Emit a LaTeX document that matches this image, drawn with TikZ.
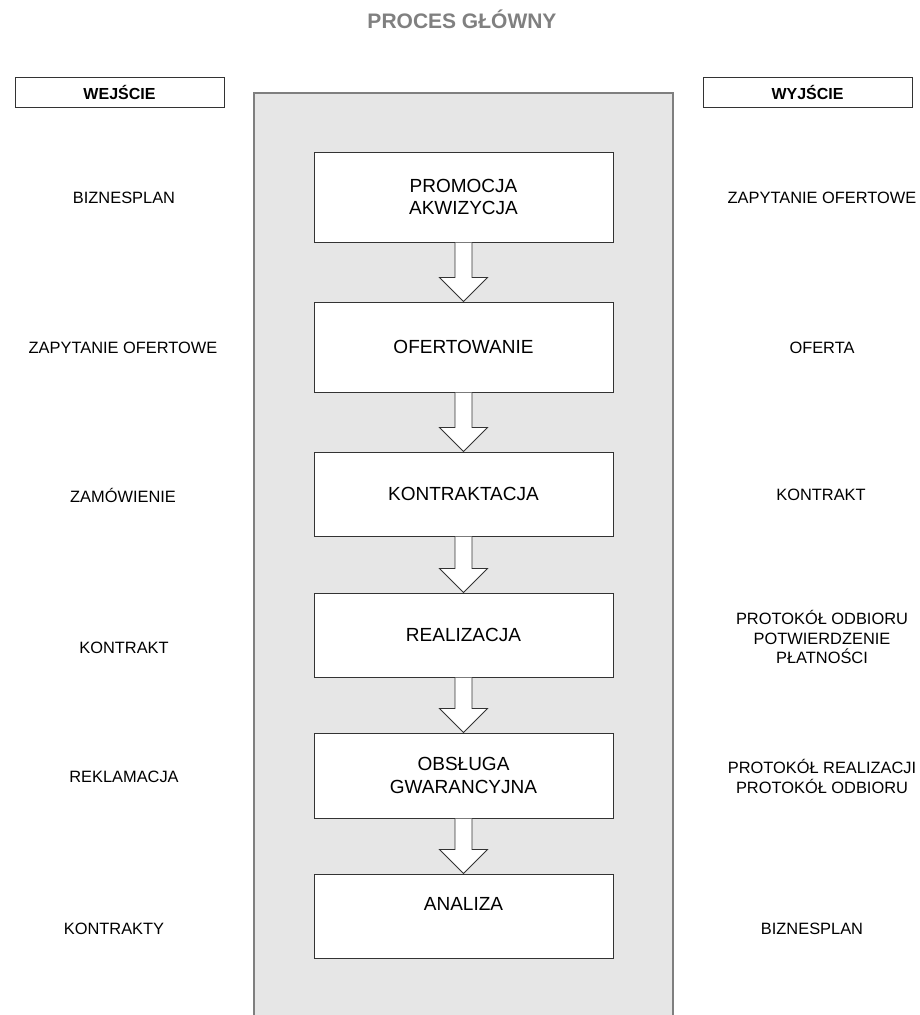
\documentclass[tikz,border=0pt]{standalone}
\usepackage{fontspec}
\setmainfont{Liberation Sans}
\usetikzlibrary{calc}
\definecolor{panelfill}{HTML}{E6E6E6}
\definecolor{panelline}{HTML}{7F7F7F}
\definecolor{titlegray}{HTML}{808080}
\definecolor{boxline}{HTML}{333333}
\tikzset{
  side/.style={align=center,font=\fontsize{16.4}{19.5}\selectfont,inner sep=0pt},
  head/.style={draw=boxline,line width=1pt,fill=white,minimum width=209pt,minimum height=30pt,inner sep=0pt,font=\bfseries\fontsize{16}{19}\selectfont},
  stepbox/.style={draw=boxline,line width=1pt,fill=white,minimum width=299pt,align=center,inner sep=0pt,font=\fontsize{19}{22.5}\selectfont},
  barrow/.style={draw=boxline,line width=0.9pt,fill=white,line join=miter}
}
\newcommand\blockarrow[2]{%
  \filldraw[barrow] ($(#1.south)+(-8.5,0)$) -- ($(#2.north)+(-8.5,-24)$) -- ($(#2.north)+(-24,-24)$) -- (#2.north) -- ($(#2.north)+(24,-24)$) -- ($(#2.north)+(8.5,-24)$) -- ($(#1.south)+(8.5,0)$);}
\begin{document}
\begin{tikzpicture}[x=1pt,y=-1pt]
\useasboundingbox (0,0) rectangle (920,1015);
% title
\node[font=\bfseries\fontsize{21}{24}\selectfont,text=titlegray,inner sep=0pt] (title) at (462,19) {PROCES GŁÓWNY};
% panel
\fill[panelfill] (254,93) rectangle (673,1020);
\draw[panelline,line width=1.6pt] (254,1020) |- (673,93) -- (673,1020);
% headers
\node[head] (win) at (119.5,92) {WEJŚCIE};
\node[head] (wout) at (807.5,92) {WYJŚCIE};
% steps
\node[stepbox,minimum height=90pt] (b1) at (463.5,197) {PROMOCJA\\AKWIZYCJA};
\node[stepbox,minimum height=90pt] (b2) at (463.5,347) {OFERTOWANIE};
\node[stepbox,minimum height=84pt] (b3) at (463.5,494) {KONTRAKTACJA};
\node[stepbox,minimum height=84pt] (b4) at (463.5,635) {REALIZACJA};
\node[stepbox,minimum height=85pt] (b5) at (463.5,775.5) {OBSŁUGA\\GWARANCYJNA};
\node[stepbox,minimum height=84pt] (b6) at (463.5,916) {};
\node[font=\fontsize{19}{22.5}\selectfont,inner sep=0pt] (t6) at (463.5,904) {ANALIZA};
% arrows
\blockarrow{b1}{b2}
\blockarrow{b2}{b3}
\blockarrow{b3}{b4}
\blockarrow{b4}{b5}
\blockarrow{b5}{b6}
% inputs
\node[side] (i1) at (124,198) {BIZNESPLAN};
\node[side] (i2) at (123,348) {ZAPYTANIE OFERTOWE};
\node[side] (i3) at (123,495) {ZAMÓWIENIE};
\node[side] (i4) at (124,648) {KONTRAKT};
\node[side] (i5) at (124,777) {REKLAMACJA};
\node[side] (i6) at (114,929) {KONTRAKTY};
% outputs
\node[side] (o1) at (822,198) {ZAPYTANIE OFERTOWE};
\node[side] (o2) at (822,348) {OFERTA};
\node[side] (o3) at (821,495) {KONTRAKT};
\node[side] (o4) at (822,637) {PROTOKÓŁ ODBIORU\\POTWIERDZENIE\\PŁATNOŚCI};
\node[side] (o5) at (822,776.5) {PROTOKÓŁ REALIZACJI\\PROTOKÓŁ ODBIORU};
\node[side] (o6) at (812,929) {BIZNESPLAN};
\end{tikzpicture}
\end{document}
